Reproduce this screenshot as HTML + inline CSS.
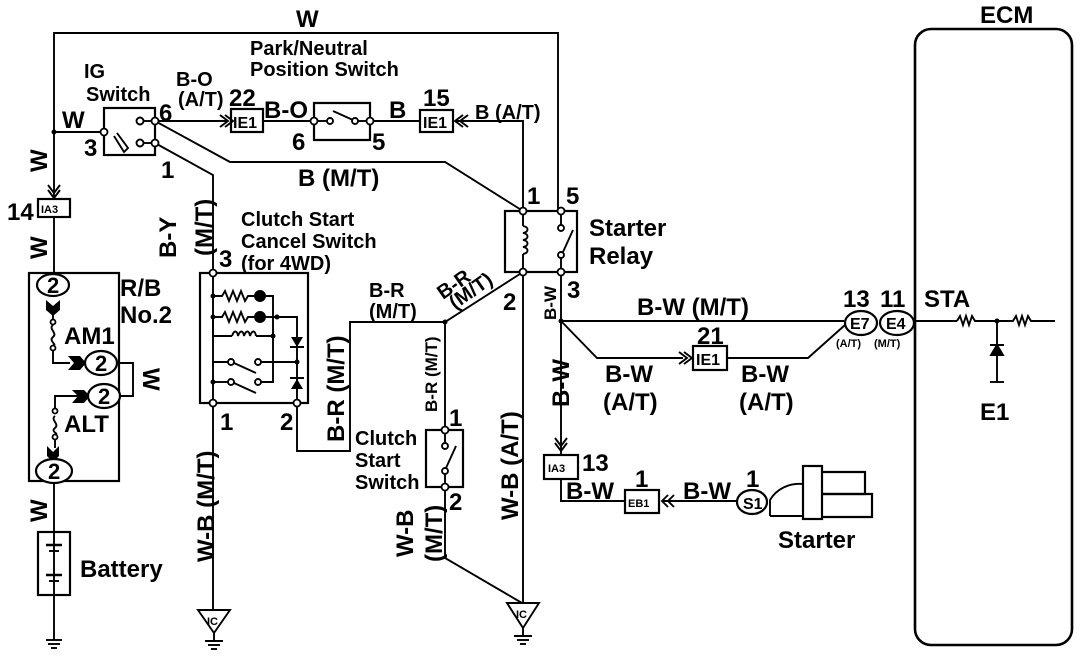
<!DOCTYPE html>
<html><head><meta charset="utf-8"><style>
html,body{margin:0;padding:0;background:#fff;}
svg{display:block;}
text{font-family:"Liberation Sans",sans-serif;font-weight:bold;fill:#000;}
</style></head><body>
<svg width="1088" height="658" viewBox="0 0 1088 658" xmlns="http://www.w3.org/2000/svg">
<g fill="none" stroke="#000" stroke-width="1.9">
<polyline points="54,200 54,33 558,33 558,211"/>
<line x1="54" y1="132" x2="104" y2="132"/>
<rect x="104" y="108" width="51" height="47" stroke-width="2.2"/>
<circle cx="140" cy="121" r="3.5" fill="#fff"/><circle cx="140" cy="143" r="3.5" fill="#fff"/>
<line x1="144" y1="143" x2="155" y2="143"/><line x1="144" y1="121" x2="155" y2="121"/>
<polyline points="117,133 128,148 124,152 114,136"/>
<line x1="155" y1="121" x2="228" y2="121"/>
<polyline points="220,115 228,121 220,127"/><polyline points="225,115 233,121 225,127"/>
<rect x="231" y="109" width="32" height="23" stroke-width="2.2"/>
<line x1="263" y1="121" x2="314" y2="121"/>
<polyline points="314,121 314,103 370,103 370,140 314,140 314,121" stroke-width="2.2"/>
<line x1="314" y1="121" x2="327" y2="121"/><circle cx="330" cy="121" r="3" fill="#fff"/>
<line x1="333" y1="111" x2="353" y2="120"/><circle cx="355" cy="121" r="3" fill="#fff"/>
<line x1="358" y1="121" x2="370" y2="121"/>
<line x1="370" y1="121" x2="420" y2="121"/>
<rect x="420" y="110" width="33" height="22" stroke-width="2.2"/>
<polyline points="463,115 455,121 463,127"/><polyline points="468,115 460,121 468,127"/>
<polyline points="456,121 523,121 523,211"/>
<polyline points="155,121 230,162 445,162 523,211"/>
<polyline points="155,143 213,175 213,273"/>
<rect x="505" y="211" width="72" height="61" stroke-width="2.2"/>
<path d="M523,211 V226 M523,254 V272"/>
<path d="M523,226 c6,1 6,6 0,7 c6,1 6,6 0,7 c6,1 6,6 0,7 c6,1 6,6 0,7"/>
<line x1="561" y1="211" x2="561" y2="225"/><circle cx="561" cy="228" r="3" fill="#fff"/>
<line x1="563" y1="252" x2="573" y2="230"/><circle cx="561" cy="255" r="3" fill="#fff"/>
<line x1="561" y1="258" x2="561" y2="272"/>
<polyline points="48,190 54,198 60,190"/><polyline points="48,185 54,193 60,185"/>
<rect x="38" y="199" width="32" height="18" stroke-width="2.2"/>
<line x1="54" y1="217" x2="54" y2="273"/>
<rect x="29" y="273" width="90" height="208" stroke-width="2.2"/>
<polyline points="119,363 133,363 133,396 119,396"/>
<line x1="53" y1="310" x2="53" y2="319"/>
<path d="M53,325 c-5,4 5,8 0,12 c-5,4 5,8 0,8"/>
<polyline points="53,348 53,363 70,363"/>
<polyline points="85,396 55,396 55,408"/>
<path d="M55,416 c-5,4 5,8 0,12 c-5,4 5,6 0,6"/>
<line x1="55" y1="437" x2="55" y2="448"/>
<line x1="54" y1="481" x2="54" y2="532"/>
<rect x="38" y="532" width="32" height="63" stroke-width="2.2"/>
<line x1="54" y1="532" x2="54" y2="640"/>
<line x1="46" y1="545" x2="62" y2="545" stroke-width="2.5"/><line x1="49" y1="551" x2="59" y2="551"/>
<line x1="46" y1="575" x2="62" y2="575" stroke-width="2.5"/><line x1="49" y1="581" x2="59" y2="581"/>
<line x1="46" y1="640" x2="62" y2="640"/><line x1="48" y1="644" x2="60" y2="644"/><line x1="51" y1="648" x2="57" y2="648"/>
<rect x="200" y="273" width="108" height="130" stroke-width="2.2"/>
<line x1="213" y1="273" x2="213" y2="403"/>
<polyline points="213,296 222,296 225,291 229,301 233,291 237,301 241,291 245,301 248,296 255,296"/>
<circle cx="260" cy="296" r="5" fill="#000"/>
<polyline points="265,296 273,296 273,382 258,382"/>
<polyline points="213,317 222,317 225,312 229,322 233,312 237,322 241,312 245,322 248,317 255,317"/>
<circle cx="260" cy="317" r="5" fill="#000"/>
<polyline points="265,317 297,317 297,403"/>
<polyline points="213,317 213,336 232,336"/>
<path d="M232,336 c2,-6 5,-6 6,0 c2,-6 5,-6 6,0 c2,-6 5,-6 6,0 c2,-6 5,-6 6,0"/>
<line x1="256" y1="336" x2="273" y2="336"/>
<polyline points="213,366 213,362 228,362"/><circle cx="231" cy="362" r="3" fill="#fff"/>
<line x1="234" y1="363" x2="256" y2="373"/><circle cx="258" cy="362" r="3" fill="#fff"/>
<line x1="261" y1="362" x2="297" y2="362"/>
<line x1="213" y1="382" x2="228" y2="382"/><circle cx="231" cy="382" r="3" fill="#fff"/>
<line x1="234" y1="383" x2="256" y2="393"/>
<circle cx="258" cy="382" r="3" fill="#fff"/>
<line x1="213" y1="403" x2="213" y2="610"/>
<polygon points="198,610 230,610 214,633"/>
<line x1="214" y1="633" x2="214" y2="641"/>
<line x1="205" y1="641" x2="223" y2="641"/><line x1="208" y1="645" x2="220" y2="645"/><line x1="211" y1="649" x2="217" y2="649"/>
<polyline points="297,403 297,451 350,451 350,322 445,322 523,272"/>
<line x1="445" y1="322" x2="445" y2="430"/>
<rect x="426" y="430" width="37" height="57" stroke-width="2.2"/>
<line x1="445" y1="430" x2="445" y2="443"/><circle cx="445" cy="446" r="3" fill="#fff"/>
<line x1="446" y1="468" x2="456" y2="446"/><circle cx="445" cy="471" r="3" fill="#fff"/>
<line x1="445" y1="474" x2="445" y2="487"/>
<polyline points="445,487 445,558 522,603"/>
<line x1="523" y1="272" x2="523" y2="603"/>
<polygon points="507,603 539,603 523,628"/>
<line x1="523" y1="628" x2="523" y2="636"/>
<line x1="514" y1="636" x2="532" y2="636"/><line x1="517" y1="640" x2="529" y2="640"/><line x1="520" y1="644" x2="526" y2="644"/>
<line x1="561" y1="272" x2="561" y2="455"/>
<polyline points="555,443 561,451 567,443"/><polyline points="555,438 561,446 567,438"/>
<rect x="544" y="455" width="34" height="24" stroke-width="2.2"/>
<polyline points="561,479 561,501 625,501"/>
<rect x="625" y="490" width="34" height="23" stroke-width="2.2"/>
<polyline points="668,495 662,501 668,507"/><polyline points="674,495 668,501 674,507"/>
<line x1="663" y1="501" x2="737" y2="501"/>
<line x1="561" y1="321" x2="844" y2="321"/>
<polyline points="561,321 597,358 683,358"/>
<polyline points="679,352 687,358 679,364"/><polyline points="684,352 692,358 684,364"/>
<rect x="693" y="346" width="34" height="24" stroke-width="2.2"/>
<polyline points="727,358 808,358 845,325"/>
<ellipse cx="861" cy="323" rx="16" ry="12" stroke-width="2.2"/>
<ellipse cx="897" cy="323" rx="17" ry="12" stroke-width="2.2"/>
<ellipse cx="752" cy="502" rx="15" ry="12" stroke-width="2.2"/>
<path d="M770,516 V500 A33,30 0 0 1 803,484"/>
<line x1="770" y1="516" x2="803" y2="516"/>
<rect x="803" y="466" width="19" height="53" stroke-width="2.2"/>
<polyline points="822,472 865,472 865,494 822,494" stroke-width="2.2"/>
<polyline points="822,494 872,494 872,517 822,517" stroke-width="2.2"/>
<rect x="915" y="29" width="157" height="616" rx="16" stroke-width="2.6"/>
<line x1="914" y1="321" x2="957" y2="321"/>
<polyline points="957,321 960,316 963,325 966,316 969,325 972,316 975,321 997,321"/>
<polyline points="997,321 1013,321 1016,316 1019,325 1022,316 1025,325 1028,316 1031,321 1055,321"/>
<line x1="997" y1="321" x2="997" y2="382"/>
<polygon points="991,355 1003,355 997,345" fill="#000"/><line x1="990" y1="345" x2="1004" y2="345" stroke-width="2"/>
<line x1="990" y1="382" x2="1004" y2="382"/>
</g>
<g fill="#000">
<circle cx="54" cy="132" r="2.5"/><circle cx="213" cy="296" r="2.5"/><circle cx="213" cy="317" r="2.5"/>
<circle cx="273" cy="336" r="2.5"/><circle cx="277" cy="317" r="2.5"/><circle cx="297" cy="362" r="2.5"/>
<circle cx="213" cy="382" r="2.5"/><circle cx="445" cy="322" r="2.5"/><circle cx="561" cy="321" r="2.5"/>
<circle cx="997" cy="321" r="2.5"/>
<polygon points="291,337 303,337 297,347"/><line x1="290" y1="347" x2="304" y2="347" stroke="#000" stroke-width="2"/>
<polygon points="291,389 303,389 297,379"/><line x1="290" y1="378" x2="304" y2="378" stroke="#000" stroke-width="2"/>
<polygon points="46,300 53,306 60,300 60,310 53,316 46,310"/>
<polygon points="68,356 80,356 86,363 80,370 68,370 74,363"/>
<polygon points="72,390 84,390 90,396 84,403 72,403 78,396"/>
<polygon points="47,446 53,452 59,446 59,456 53,462 47,456"/>
</g>
<g fill="#fff" stroke="#000" stroke-width="1.8">
<circle cx="104" cy="132" r="3.5"/><circle cx="155" cy="121" r="3.5"/><circle cx="155" cy="143" r="3.5"/>
<circle cx="314" cy="121" r="3.5"/><circle cx="370" cy="121" r="3.5"/>
<circle cx="523" cy="211" r="3.5"/><circle cx="561" cy="211" r="3.5"/><circle cx="523" cy="272" r="3.5"/><circle cx="561" cy="272" r="3.5"/>
<circle cx="213" cy="273" r="3.5"/><circle cx="213" cy="403" r="3.5"/><circle cx="297" cy="403" r="3.5"/>
<circle cx="445" cy="430" r="3.5"/><circle cx="445" cy="487" r="3.5"/>
<circle cx="53" cy="322" r="2.5"/><circle cx="53" cy="348" r="2.5"/><circle cx="55" cy="411" r="2.5"/><circle cx="55" cy="437" r="2.5"/>
<ellipse cx="53" cy="285" rx="16" ry="11" stroke-width="2.2"/>
<ellipse cx="101" cy="363" rx="16" ry="12" stroke-width="2.2"/>
<ellipse cx="104" cy="396" rx="16" ry="12" stroke-width="2.2"/>
<ellipse cx="54" cy="471" rx="18" ry="12" stroke-width="2.2"/>
</g>
<g font-size="24">
<text x="296" y="27">W</text>
<text x="62" y="128">W</text>
<text x="84" y="156">3</text>
<text x="159" y="121">6</text>
<text x="161" y="178">1</text>
<text x="229" y="106">22</text>
<text x="264" y="118">B-O</text>
<text x="292" y="150">6</text>
<text x="372" y="150">5</text>
<text x="389" y="118">B</text>
<text x="423" y="106">15</text>
<text x="298" y="186">B (M/T)</text>
<text x="527" y="204">1</text>
<text x="566" y="204">5</text>
<text x="503" y="310">2</text>
<text x="567" y="298">3</text>
<text x="589" y="236">Starter</text>
<text x="589" y="264">Relay</text>
<text x="7" y="220">14</text>
<text x="120" y="296">R/B</text>
<text x="120" y="323">No.2</text>
<text x="64" y="344">AM1</text>
<text x="64" y="432">ALT</text>
<text x="80" y="577">Battery</text>
<text x="219" y="267">3</text>
<text x="220" y="430">1</text>
<text x="280" y="430">2</text>
<text x="449" y="426">1</text>
<text x="449" y="510">2</text>
<text x="637" y="315">B-W (M/T)</text>
<text x="697" y="344">21</text>
<text x="605" y="382">B-W</text>
<text x="603" y="410">(A/T)</text>
<text x="741" y="382">B-W</text>
<text x="739" y="410">(A/T)</text>
<text x="843" y="307">13</text>
<text x="880" y="307">11</text>
<text x="924" y="307">STA</text>
<text x="980" y="420">E1</text>
<text x="980" y="23">ECM</text>
<text x="582" y="471">13</text>
<text x="566" y="499">B-W</text>
<text x="635" y="487">1</text>
<text x="683" y="499">B-W</text>
<text x="746" y="487">1</text>
<text x="778" y="548">Starter</text>
</g>
<g font-size="20">
<text x="84" y="78">IG</text>
<text x="86" y="101">Switch</text>
<text x="176" y="86">B-O</text>
<text x="178" y="106">(A/T)</text>
<text x="250" y="55">Park/Neutral</text>
<text x="250" y="76">Position Switch</text>
<text x="475" y="119">B (A/T)</text>
<text x="241" y="226">Clutch Start</text>
<text x="241" y="248">Cancel Switch</text>
<text x="241" y="270">(for 4WD)</text>
<text x="369" y="297">B-R</text>
<text x="369" y="318">(M/T)</text>
<text x="355" y="445">Clutch</text>
<text x="355" y="467">Start</text>
<text x="355" y="489">Switch</text>
<text transform="translate(443,300) rotate(-35)">B-R</text>
<text transform="translate(455,310) rotate(-35)">(M/T)</text>
</g>
<g font-size="24">
<text transform="translate(47,172) rotate(-90)">W</text>
<text transform="translate(47,259) rotate(-90)">W</text>
<text transform="translate(47,522) rotate(-90)">W</text>
<text transform="translate(143,368) rotate(90)">W</text>
<text transform="translate(176,258) rotate(-90)">B-Y</text>
<text transform="translate(212,256) rotate(-90)">(M/T)</text>
<text transform="translate(214,562) rotate(-90)">W-B (M/T)</text>
<text transform="translate(344,442) rotate(-90)">B-R (M/T)</text>
<text transform="translate(413,557) rotate(-90)">W-B</text>
<text transform="translate(442,562) rotate(-90)">(M/T)</text>
<text transform="translate(518,520) rotate(-90)">W-B (A/T)</text>
<text transform="translate(569,407) rotate(-90)">B-W</text>
</g>
<g font-size="17">
<text transform="translate(556,320) rotate(-90)">B-W</text>
<text x="437" y="412" transform="rotate(-90 437 412)">B-R (M/T)</text>
</g>
<g font-size="22">
<text x="47" y="293">2</text><text x="95" y="371">2</text><text x="98" y="404">2</text><text x="48" y="479">2</text>
</g>
<g font-size="16">
<text x="233" y="128">IE1</text><text x="423" y="128">IE1</text><text x="696" y="365">IE1</text>
<text x="850" y="329">E7</text><text x="886" y="329">E4</text>
<text x="743" y="509">S1</text>
</g>
<g font-size="11">
<text x="41" y="213">IA3</text><text x="548" y="472">IA3</text><text x="628" y="507">EB1</text>
<text x="836" y="347">(A/T)</text><text x="874" y="347">(M/T)</text>
<text x="207" y="625">IC</text><text x="516" y="618">IC</text>
</g>
</svg>
</body></html>
